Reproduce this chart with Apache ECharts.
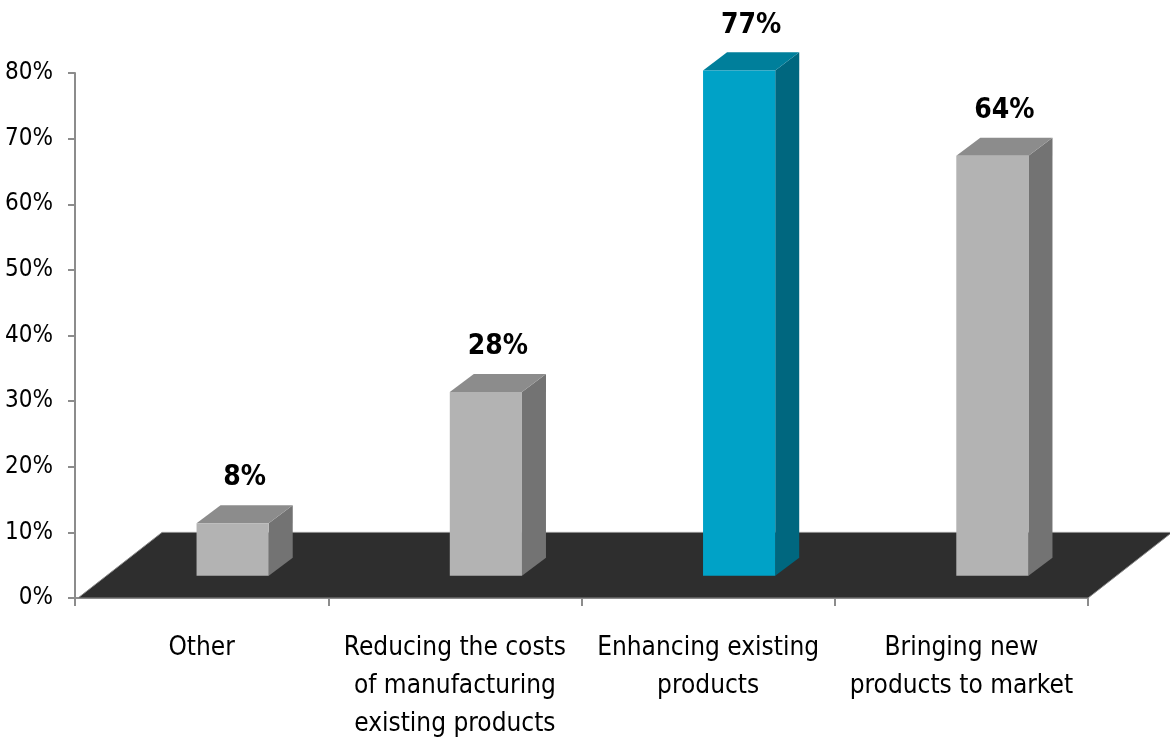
<!DOCTYPE html>
<html><head><meta charset="utf-8">
<script src="https://cdn.jsdelivr.net/npm/echarts@6/dist/echarts.min.js"></script>
<style>html,body{margin:0;padding:0;background:#fff}#c{width:1170px;height:740px}</style>
</head><body><div id="c"></div>
<script>
var categories = ['Other', 'Reducing the costs\nof manufacturing\nexisting products', 'Enhancing existing\nproducts', 'Bringing new\nproducts to market'];
var values = [8, 28, 77, 64];
var highlightIndex = 2;
var yTicks = [0, 10, 20, 30, 40, 50, 60, 70, 80];

var FONT = '"DejaVu Sans Condensed","Liberation Sans Narrow","Roboto",sans-serif';
var chart = echarts.init(document.getElementById('c'));

function floorItem(params, api) {
  var nCat = categories.length;
  var p0 = api.coord([0, 0]);
  var cw = api.size([1, 0])[0];
  var unit = api.size([0, 10])[1];
  var xl = p0[0] - cw / 2 + 3;
  var xr = p0[0] + cw * (nCat - 0.5);
  var y0 = p0[1];
  var dy = unit, dx = unit * 1.28;
  return {
    type: 'polygon',
    shape: { points: [[xl, y0], [xr, y0], [xr + dx, y0 - dy], [xl + dx, y0 - dy]] },
    style: { fill: '#2e2e2e', stroke: '#8a8a8a', lineWidth: 1 }
  };
}

function barItem(params, api) {
  var idx = api.value(0), v = api.value(1);
  var base = api.coord([idx, 0]);
  var top = api.coord([idx, v]);
  var cw = api.size([1, 0])[0];
  var unit = api.size([0, 10])[1];
  var offY = unit * 0.34, offX = offY * 1.3;
  var dY = unit * 0.275, dX = dY * 1.33;
  var w = cw * 0.285;
  var cx = base[0] + offX + 2;
  var x1 = cx - w / 2, x2 = cx + w / 2;
  var yb = base[1] - offY, yt = top[1] - offY;
  var hl = idx === highlightIndex;
  var cFront = hl ? '#00a2c7' : '#b3b3b3';
  var cTop = hl ? '#007f9b' : '#8c8c8c';
  var cSide = hl ? '#00677f' : '#737373';
  return {
    type: 'group',
    children: [
      { type: 'polygon', shape: { points: [[x2, yb], [x2 + dX, yb - dY], [x2 + dX, yt - dY], [x2, yt]] }, style: { fill: cSide } },
      { type: 'polygon', shape: { points: [[x1, yt], [x2, yt], [x2 + dX, yt - dY], [x1 + dX, yt - dY]] }, style: { fill: cTop } },
      { type: 'rect', shape: { x: x1, y: yt, width: w, height: yb - yt }, style: { fill: cFront } },
      { type: 'text', style: { x: cx + dX / 2, y: yt - dY - 27, text: v + '%', align: 'center', verticalAlign: 'middle', font: 'bold 28px ' + FONT, fill: '#000' } }
    ]
  };
}

chart.setOption({
  animation: false,
  grid: { left: 75, right: 82, top: 73, bottom: 142, outerBoundsMode: 'none', containLabel: false },
  xAxis: {
    type: 'category', data: categories, boundaryGap: true,
    axisLine: { lineStyle: { color: '#8c8c8c', width: 2 } },
    axisTick: { show: true, length: 8, lineStyle: { color: '#8c8c8c', width: 2 } },
    axisLabel: { color: '#000', fontSize: 26, fontFamily: FONT, lineHeight: 38, margin: 31, interval: 0 }
  },
  yAxis: {
    type: 'value', min: 0, max: 80, interval: 10,
    axisLine: { show: true, lineStyle: { color: '#8c8c8c', width: 2 } },
    axisTick: { show: true, length: 7, lineStyle: { color: '#8c8c8c', width: 2 } },
    splitLine: { show: false },
    axisLabel: { color: '#000', fontSize: 24, fontFamily: FONT, margin: 22, padding: [5, 0, 0, 0], formatter: function (v) { return v + '%'; } }
  },
  series: [
    { type: 'custom', renderItem: floorItem, data: [[0, 0]], z: 1, silent: true, clip: false },
    { type: 'custom', renderItem: barItem, data: values.map(function (v, i) { return [i, v]; }), z: 2, clip: false }
  ]
});
</script></body></html>
